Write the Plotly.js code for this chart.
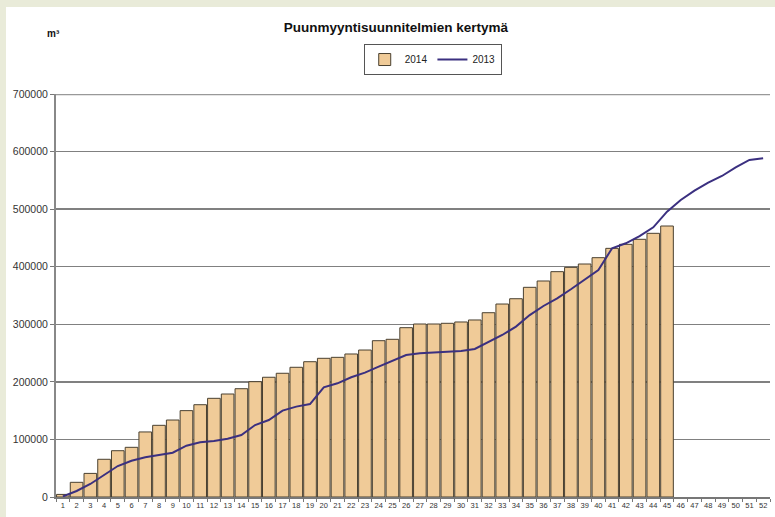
<!DOCTYPE html>
<html>
<head>
<meta charset="utf-8">
<script src="https://cdn.plot.ly/plotly-3.0.1.min.js"></script>
<style>
html,body{margin:0;padding:0;background:#e9ebd9;width:775px;height:517px;overflow:hidden;}
#chart{position:absolute;left:6px;top:7px;width:769px;height:510px;background:#fff;}
</style>
</head>
<body>
<div id="chart"></div>
<script>
const weeks = Array.from({length: 52}, (_, i) => String(i + 1));

const weeks2014 = weeks.slice(0, 45);
const values2014 = [
  4500, 25500, 41000, 65500, 80400, 86300, 113000, 124500, 133700, 150000,
  160300, 171400, 178900, 188100, 200300, 208000, 214900, 225300, 235000, 240900,
  242600, 248400, 255300, 271500, 273900, 294100, 300500, 300500, 301700, 304000,
  307500, 320100, 335200, 344400, 364200, 375200, 391400, 398900, 404700, 415700,
  431900, 438900, 447600, 458000, 470700
];

const values2013 = [
  1000, 10400, 22600, 38200, 53800, 63000, 69000, 73000, 77000, 89100,
  95000, 97300, 101300, 107700, 125000, 133700, 150000, 157000, 161500, 190500,
  197500, 208000, 216000, 226400, 236200, 246600, 249500, 250700, 253000, 253600,
  257100, 269800, 281400, 296000, 316000, 331800, 345100, 360800, 377000, 394300,
  432000, 440700, 453300, 468400, 495600, 515900, 532000, 546000, 557600, 572700,
  585400, 588300
];

const titleText = 'Puunmyyntisuunnitelmien kertymä';
const unitText = 'm³';
const yTicks = [0, 100000, 200000, 300000, 400000, 500000, 600000, 700000];
const yMax = 700000;

const font = 'Liberation Sans Narrow, Liberation Sans, Arial, sans-serif';

const traces = [
  {
    type: 'bar', name: '2014', x: weeks2014, y: values2014,
    marker: {color: '#f0cb98', line: {color: '#4a4030', width: 1}},
    hoverinfo: 'x+y'
  },
  {
    type: 'scatter', mode: 'lines', name: '2013', x: weeks, y: values2013,
    line: {color: '#3b3080', width: 2}
  }
];

const layout = {
  width: 769, height: 510,
  margin: {l: 50, r: 5, t: 87, b: 20},
  paper_bgcolor: '#ffffff', plot_bgcolor: '#ffffff',
  font: {family: font, color: '#222', size: 9},
  bargap: 0.08,
  title: {
    text: '<b>' + titleText + '</b>',
    font: {family: font, size: 13.5, color: '#111'},
    x: 0.507, xref: 'container', xanchor: 'center',
    y: 0.96, yref: 'container', yanchor: 'middle'
  },
  showlegend: true,
  legend: {
    orientation: 'h', x: 0.431, xanchor: 'left', y: 1.124, yanchor: 'top',
    bordercolor: '#555', borderwidth: 1, bgcolor: '#fff',
    font: {family: font, size: 10, color: '#222'},
    traceorder: 'normal', itemwidth: 30
  },
  xaxis: {
    type: 'category', categoryorder: 'array', categoryarray: weeks,
    range: [-0.5, 51.5], tickangle: 0,
    tickfont: {family: font, size: 7.5, color: '#333'},
    showline: true, linecolor: '#777', linewidth: 1.5,
    ticks: 'outside', tickson: 'boundaries', ticklen: 3, tickcolor: '#777',
    showgrid: false, fixedrange: true
  },
  yaxis: {
    range: [0, yMax], tickvals: yTicks, tickformat: 'd',
    tickfont: {family: font, size: 10.5, color: '#333'},
    showline: true, linecolor: '#888', linewidth: 2,
    ticks: 'outside', ticklen: 4, tickcolor: '#777',
    showgrid: true, gridcolor: '#808080', gridwidth: 1.5,
    zeroline: false, fixedrange: true
  },
  shapes: [{
    type: 'line', xref: 'paper', yref: 'y', x0: 0, x1: 1, y0: yMax, y1: yMax,
    line: {color: '#999', width: 2.5}
  }],
  annotations: [{
    text: '<b>' + unitText + '</b>', xref: 'paper', yref: 'paper',
    x: -0.004, y: 1 + (87 - 26) / 403, xanchor: 'center', yanchor: 'middle',
    showarrow: false, font: {family: font, size: 10, color: '#111'}
  }]
};

Plotly.newPlot('chart', traces, layout, {displayModeBar: false, staticPlot: true});
</script>
</body>
</html>
